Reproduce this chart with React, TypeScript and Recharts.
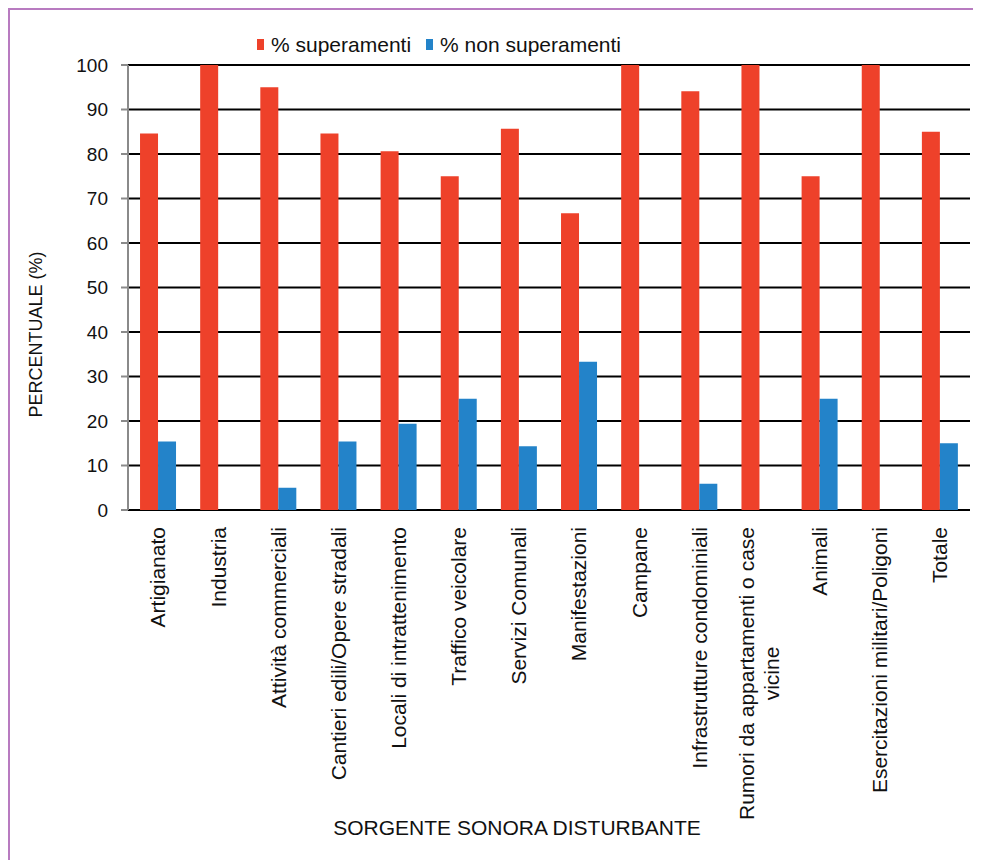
import { Bar, BarChart, CartesianGrid, Legend, XAxis, YAxis } from "recharts"

// Sorgenti sonore disturbanti: % superamenti vs % non superamenti
const categories = [
  "Artigianato",
  "Industria",
  "Attività commerciali",
  "Cantieri edili/Opere stradali",
  "Locali di intrattenimento",
  "Traffico veicolare",
  "Servizi Comunali",
  "Manifestazioni",
  "Campane",
  "Infrastrutture condominiali",
  "Rumori da appartamenti o case\nvicine",
  "Animali",
  "Esercitazioni militari/Poligoni",
  "Totale",
]
const seriesNames = ["% superamenti", "% non superamenti"]
const superamenti = [84.6, 100, 95, 84.6, 80.6, 75, 85.7, 66.7, 100, 94.1, 100, 75, 100, 85]
const nonSuperamenti = [15.4, 0, 5, 15.4, 19.4, 25, 14.3, 33.3, 0, 5.9, 0, 25, 0, 15]
const yTicks = [0, 10, 20, 30, 40, 50, 60, 70, 80, 90, 100]
const boundaryTicks = [...categories.map((_, i) => i), categories.length]

const data = categories.map((name, i) => ({
  name,
  sup: superamenti[i],
  nonSup: nonSuperamenti[i],
}))

const FONT = '"Liberation Sans", Arial, sans-serif'
const RED = "#EE412A"
const BLUE = "#2383C9"
const AXIS_GREY = "#8a8a8a"
const LABEL_SIZE = 21
const LINE_H = 25

let ctx: CanvasRenderingContext2D | null = null
function textWidth(s: string, size: number) {
  if (!ctx) ctx = document.createElement("canvas").getContext("2d")
  if (!ctx) return s.length * size * 0.5
  ctx.font = `${size}px ${FONT}`
  return ctx.measureText(s).width
}

function CategoryTick(props: any) {
  const { x, y, payload } = props
  const lines: string[] = String(payload.value).split("\n")
  const maxW = Math.max(...lines.map((l) => textWidth(l, LABEL_SIZE)))
  const cy = y + maxW / 2
  return (
    <g>
      {lines.map((l, i) => {
        const lx = x + (i - (lines.length - 1) / 2) * LINE_H
        return (
          <text
            key={i}
            x={lx}
            y={cy}
            dy="0.35em"
            transform={`rotate(-90, ${lx}, ${cy})`}
            textAnchor="middle"
            fontSize={LABEL_SIZE}
            fontFamily={FONT}
            fill="#111"
          >
            {l}
          </text>
        )
      })}
    </g>
  )
}

function LegendContent(props: any) {
  const items = [...(props.payload || [])].sort(
    (a: any, b: any) => seriesNames.indexOf(a.value) - seriesNames.indexOf(b.value)
  )
  return (
    <div style={{ display: "flex", alignItems: "center", fontFamily: FONT, fontSize: 21, color: "#111" }}>
      {items.map((p: any) => (
        <div key={p.value} style={{ display: "flex", alignItems: "center", marginRight: 15 }}>
          <span style={{ display: "inline-block", width: 7, height: 11, background: p.color, marginRight: 7 }} />
          <span style={{ lineHeight: 1 }}>{p.value}</span>
        </div>
      ))}
    </div>
  )
}

export default function App() {
  return (
    <div
      style={{
        position: "relative",
        width: 973,
        height: 852,
        borderTop: "2px solid #B87BC0",
        borderLeft: "2px solid #B87BC0",
        boxSizing: "border-box",
        background: "#fff",
      }}
    >
      <BarChart
        width={971}
        height={850}
        data={data}
        margin={{ top: 55, right: 11, left: 0, bottom: 0 }}
        barCategoryGap="20%"
        barGap={0}
      >
        <CartesianGrid yAxisId="val" xAxisId="cat" vertical={false} stroke="#000" strokeWidth={2} />
        <XAxis
          xAxisId="bnd"
          type="number"
          domain={[0, categories.length]}
          allowDataOverflow
          ticks={boundaryTicks}
          height={0}
          tickSize={6}
          tick={() => <g />}
          tickLine={{ stroke: AXIS_GREY, strokeWidth: 2 }}
          axisLine={{ stroke: AXIS_GREY, strokeWidth: 2 }}
        />
        <XAxis
          xAxisId="cat"
          dataKey="name"
          interval={0}
          height={350}
          tickSize={0}
          tickMargin={17}
          tickLine={false}
          axisLine={false}
          tick={<CategoryTick />}
          label={{
            content: (p: any) => {
              const vb = p.viewBox
              return (
                <text
                  x={vb.x + vb.width / 2 - 32}
                  y={vb.y + 325}
                  textAnchor="middle"
                  fontSize={21}
                  fontFamily={FONT}
                  fill="#111"
                >
                  SORGENTE SONORA DISTURBANTE
                </text>
              )
            },
          }}
        />
        <YAxis
          yAxisId="val"
          width={118}
          domain={[0, 100]}
          ticks={yTicks}
          interval={0}
          tickSize={7}
          tickMargin={13}
          tick={{ fontSize: 19, fontFamily: FONT, fill: "#111" }}
          tickLine={{ stroke: AXIS_GREY, strokeWidth: 2 }}
          axisLine={{ stroke: AXIS_GREY, strokeWidth: 2 }}
          label={{
            content: (p: any) => {
              const vb = p.viewBox
              const cx = vb.x + 26
              const cy = vb.y + vb.height / 2 + 47
              return (
                <text
                  x={cx}
                  y={cy}
                  dy="0.35em"
                  transform={`rotate(-90, ${cx}, ${cy})`}
                  textAnchor="middle"
                  fontSize={18}
                  fontFamily={FONT}
                  fill="#111"
                >
                  PERCENTUALE (%)
                </text>
              )
            },
          }}
        />
        <YAxis
          yAxisId="frame"
          orientation="right"
          width={0}
          domain={[0, 100]}
          tick={false}
          tickLine={false}
          axisLine={{ stroke: "#000", strokeWidth: 2 }}
        />
        <Legend
          verticalAlign="middle"
          align="center"
          content={<LegendContent />}
          wrapperStyle={{ top: 24, left: 247, width: "auto" }}
        />
        <Bar xAxisId="cat" yAxisId="val" dataKey="sup" name={seriesNames[0]} fill={RED} isAnimationActive={false} />
        <Bar xAxisId="cat" yAxisId="val" dataKey="nonSup" name={seriesNames[1]} fill={BLUE} isAnimationActive={false} />
      </BarChart>
    </div>
  )
}
